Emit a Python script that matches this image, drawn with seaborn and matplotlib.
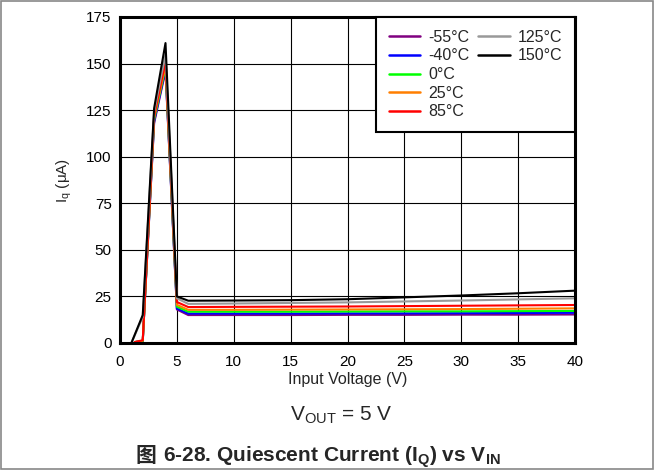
import numpy as np
import pandas as pd
import matplotlib
matplotlib.use("Agg")
import matplotlib.pyplot as plt
import seaborn as sns
from matplotlib.lines import Line2D
from matplotlib.patches import Rectangle

# ---- data ----
temps = ["-55°C", "-40°C", "0°C", "25°C", "85°C", "125°C", "150°C"]
colors = ["#800080", "#0000FF", "#00FF00", "#FF7F00", "#FF0000", "#999999", "#000000"]

x_cold = [1.3, 2, 3, 4, 5, 6, 10, 15, 20, 25, 30, 35, 40]
x_hot = [1, 2, 3, 4, 5, 6, 10, 15, 20, 25, 30, 35, 40]

iq_m55 = [0.5, 1.0, 118, 146, 18.0, 15.0, 15.0, 15.0, 15.1, 15.1, 15.2, 15.2, 15.3]
iq_m40 = [0.5, 1.0, 119, 147, 18.5, 15.8, 15.8, 15.8, 15.9, 15.9, 16.0, 16.1, 16.2]
iq_0 = [0.5, 1.0, 120, 148, 19.5, 16.8, 16.8, 16.8, 16.9, 17.0, 17.0, 17.1, 17.2]
iq_25 = [0.5, 1.2, 121, 149, 20.5, 17.8, 17.8, 17.9, 18.0, 18.1, 18.2, 18.4, 18.6]
iq_85 = [0.5, 1.5, 122, 151, 22.0, 19.3, 19.4, 19.5, 19.6, 19.8, 20.0, 20.2, 20.4]
iq_125 = [0.0, 14.0, 124, 155, 24.0, 21.0, 21.2, 21.5, 21.8, 22.3, 22.8, 23.4, 24.0]
iq_150 = [0.0, 15.0, 126, 161, 25.0, 22.7, 22.8, 23.0, 23.5, 24.5, 25.5, 26.7, 28.1]

series = [iq_m55, iq_m40, iq_0, iq_25, iq_85, iq_125, iq_150]
xs = [x_cold, x_cold, x_cold, x_cold, x_cold, x_hot, x_hot]

x_ticks = [0, 5, 10, 15, 20, 25, 30, 35, 40]
y_ticks = [0, 25, 50, 75, 100, 125, 150, 175]

rows = []
for t, xv, yv in zip(temps, xs, series):
    for a, b in zip(xv, yv):
        rows.append({"Temp": t, "Vin": a, "Iq": b})
df = pd.DataFrame(rows)

sns.set_style("white")
plt.rcParams["font.family"] = ["Liberation Sans", "Noto Sans CJK SC", "DejaVu Sans"]
plt.rcParams["mathtext.fontset"] = "custom"
plt.rcParams["mathtext.rm"] = "Liberation Sans"
plt.rcParams["mathtext.it"] = "Liberation Sans:italic"
plt.rcParams["mathtext.bf"] = "Liberation Sans:bold"

W, H = 654, 470
fig = plt.figure(figsize=(W / 100, H / 100), dpi=100)
ax = fig.add_axes([120 / W, 1 - 343 / H, 455 / W, 326 / H])

pal = dict(zip(temps, colors))
sns.lineplot(data=df, x="Vin", y="Iq", hue="Temp", hue_order=temps, palette=pal,
             linewidth=1.5, sort=False, estimator=None, legend=False, ax=ax)

ax.set_xlim(0, 40)
ax.set_ylim(0, 175)
ax.set_xticks(x_ticks)
ax.set_yticks(y_ticks)
ax.grid(True, color="black", linewidth=0.8)
ax.set_axisbelow(True)
for s in ax.spines.values():
    s.set_visible(True)
    s.set_color("black")
    s.set_linewidth(2.2)
ax.tick_params(axis="both", length=0, labelsize=11, colors="black")
ax.tick_params(axis="x", pad=9)
ax.tick_params(axis="y", pad=6)
ax.set_xlabel("Input Voltage (V)", fontsize=11.5, labelpad=2)
ax.set_ylabel(r"I$_\mathrm{q}$ ($\mathrm{\mu}$A)", fontsize=11, labelpad=9)

# legend: 5 rows in first column, 2 in second
handles = [Line2D([], [], color=c, lw=1.8) for c in colors]
labels = list(temps)
blank = Line2D([], [], color="none")
handles = handles + [blank, blank, blank]
labels = labels + ["", "", ""]
leg = ax.legend(handles, labels, ncol=2, loc="upper right", borderaxespad=0,
                fontsize=11.5, frameon=True, fancybox=False, edgecolor="black",
                handlelength=2.0, handletextpad=0.5, columnspacing=0.5,
                labelspacing=0.23, borderpad=0.8)
leg.get_frame().set_linewidth(1.5)
leg.get_frame().set_alpha(1)

# annotations below
fig.text(341 / W, 1 - 421 / H, r"V$_\mathrm{OUT}$ = 5 V", fontsize=15,
         ha="center", va="baseline")

renderer = fig.canvas.get_renderer()
t1 = fig.text(0, 1 - 462 / H, "图", fontsize=15, fontweight="bold",
              ha="left", va="baseline", family=["Noto Sans CJK SC"])
t2 = fig.text(0, 1 - 462 / H, r"6-28. Quiescent Current (I$_\mathbf{Q}$) vs V$_\mathbf{IN}$",
              fontsize=15, fontweight="bold", ha="left", va="baseline")
w1 = t1.get_window_extent(renderer).width
w2 = t2.get_window_extent(renderer).width
gap = 6
total = w1 + gap + w2
x0 = 318 - total / 2
t1.set_x(x0 / W)
t2.set_x((x0 + w1 + gap) / W)

fig.patches.append(Rectangle((0.002, 0.003), 0.996, 0.994, transform=fig.transFigure,
                             fill=False, edgecolor="#888888", linewidth=1.2))

fig.savefig("out.png", dpi=100)
